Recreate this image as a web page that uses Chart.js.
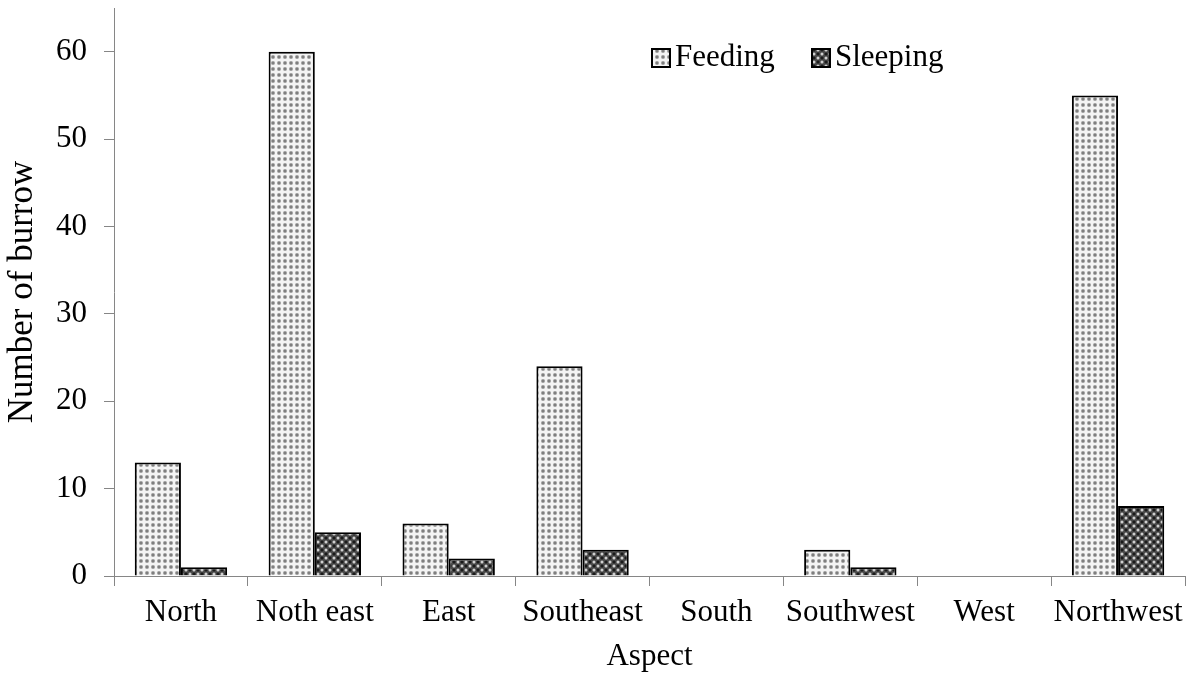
<!DOCTYPE html>
<html>
<head>
<meta charset="utf-8">
<script src="https://cdn.jsdelivr.net/npm/chart.js@4"></script>
<style>
  html, body { margin: 0; padding: 0; background: #fff; }
  #wrap { width: 1197px; height: 674px; }
</style>
</head>
<body>
<div id="wrap"><canvas id="c" width="1197" height="674"></canvas></div>
<script>
const categories = ["North", "Noth east", "East", "Southeast", "South", "Southwest", "West", "Northwest"];
const feeding = [13, 60, 6, 24, 0, 3, 0, 55];
const sleeping = [1, 5, 2, 3, 0, 1, 0, 8];
const seriesNames = ["Feeding", "Sleeping"];
const yTicks = [0, 10, 20, 30, 40, 50, 60];

function makeFeedingPattern() {
  const t = document.createElement('canvas');
  t.width = 6; t.height = 6;
  const g = t.getContext('2d');
  g.fillStyle = '#f4f4f4'; g.fillRect(0, 0, 6, 6);
  g.fillStyle = '#9a9a9a';
  g.beginPath(); g.arc(3, 3, 2, 0, Math.PI * 2); g.fill();
  g.fillStyle = '#303030';
  g.fillRect(2.5, 2.5, 1, 1);
  return g.createPattern(t, 'repeat');
}
function makeSleepingPattern() {
  const t = document.createElement('canvas');
  t.width = 8; t.height = 8;
  const g = t.getContext('2d');
  g.fillStyle = '#4a4a4a'; g.fillRect(0, 0, 8, 8);
  g.fillStyle = '#cfcfcf';
  g.beginPath(); g.arc(2, 2, 1.5, 0, Math.PI * 2); g.fill();
  g.beginPath(); g.arc(6, 6, 1.5, 0, Math.PI * 2); g.fill();
  g.fillStyle = '#0a0a0a';
  g.fillRect(5.5, 0.5, 1, 3); g.fillRect(4.5, 1.5, 3, 1);
  g.fillRect(1.5, 4.5, 1, 3); g.fillRect(0.5, 5.5, 3, 1);
  return g.createPattern(t, 'repeat');
}

const patFeeding = makeFeedingPattern();
const patSleeping = makeSleepingPattern();

const FONT = "'Liberation Serif', 'Times New Roman', serif";
Chart.defaults.font.family = FONT;
Chart.defaults.color = '#000';

const legendPlugin = {
  id: 'customLegend',
  afterDraw(chart) {
    const ctx = chart.ctx;
    const items = [
      { x: 652, ds: chart.data.datasets[0] },
      { x: 812, ds: chart.data.datasets[1] }
    ];
    ctx.save();
    ctx.font = "31px " + FONT;
    ctx.textBaseline = 'middle';
    ctx.textAlign = 'left';
    items.forEach(it => {
      const bx = it.x, by = 49, s = 18;
      ctx.fillStyle = it.ds.backgroundColor;
      ctx.fillRect(bx, by, s, s);
      ctx.lineWidth = 2;
      ctx.strokeStyle = '#000';
      ctx.strokeRect(bx, by, s, s);
      ctx.fillStyle = '#000';
      ctx.fillText(it.ds.label, bx + 23, by + s / 2);
    });
    ctx.restore();
  }
};

new Chart(document.getElementById('c'), {
  type: 'bar',
  data: {
    labels: categories,
    datasets: [
      { label: seriesNames[0], data: feeding, backgroundColor: patFeeding, borderColor: '#000', borderWidth: 2, borderSkipped: 'start' },
      { label: seriesNames[1], data: sleeping, backgroundColor: patSleeping, borderColor: '#000', borderWidth: 2, borderSkipped: 'start' }
    ]
  },
  options: {
    responsive: false,
    animation: false,
    devicePixelRatio: 1,
    layout: { padding: { top: 8, right: 12, left: 0, bottom: 0 } },
    datasets: { bar: { categoryPercentage: 0.69, barPercentage: 1.0 } },
    plugins: { legend: { display: false }, tooltip: { enabled: false } },
    scales: {
      x: {
        grid: { display: true, drawOnChartArea: false, drawTicks: true, tickLength: 10, color: '#868686', offset: true },
        border: { display: true, color: '#868686', width: 1 },
        ticks: { font: { size: 31 }, padding: 8, maxRotation: 0, autoSkip: false },
        title: { display: true, text: 'Aspect', font: { size: 31, lineHeight: 1.1 }, padding: { top: 0, bottom: 0 } },
        afterFit(s) { s.height = 98; s.paddingLeft = 0; s.paddingRight = 0; }
      },
      y: {
        min: 0, max: 65,
        grid: { display: true, drawOnChartArea: false, drawTicks: true, tickLength: 10, color: '#868686' },
        border: { display: true, color: '#868686', width: 1 },
        ticks: { stepSize: 10, font: { size: 31 }, padding: 17 },
        afterBuildTicks(s) { s.ticks = yTicks.map(v => ({ value: v })); },
        title: { display: true, text: 'Number of burrow', font: { size: 35, lineHeight: 1.1 }, padding: { top: 4, bottom: 0 } },
        afterFit(s) { s.width = 114; s.paddingTop = 0; s.paddingBottom = 0; }
      }
    }
  },
  plugins: [legendPlugin]
});
</script>
</body>
</html>
